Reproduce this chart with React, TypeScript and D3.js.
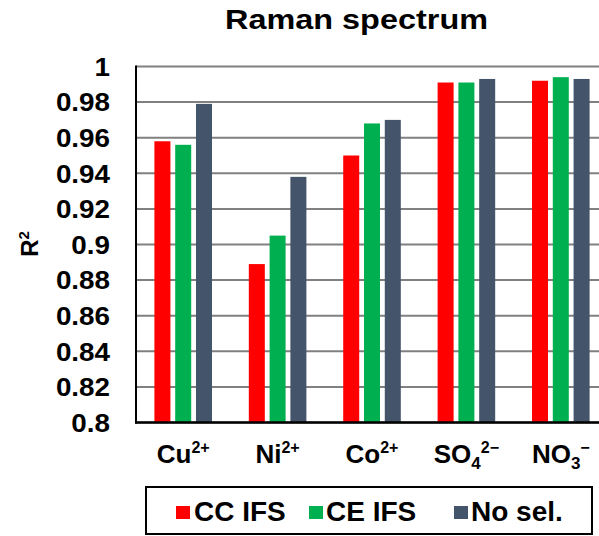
import React from "react";
import * as d3 from "d3";

const categories = ["Cu", "Ni", "Co", "SO4", "NO3"];
const seriesNames = ["CC IFS", "CE IFS", "No sel."];
const ccIFS = [0.958, 0.889, 0.95, 0.991, 0.992];
const ceIFS = [0.956, 0.905, 0.968, 0.991, 0.994];
const noSel = [0.979, 0.938, 0.97, 0.993, 0.993];
const yTicks = [0.8, 0.82, 0.84, 0.86, 0.88, 0.9, 0.92, 0.94, 0.96, 0.98, 1];
const colors = ["#ff0000", "#00b050", "#44546a"];

const W = 599;
const H = 536;
const left = 136;
const right = 608;
const top = 66.5;
const bottom = 422.5;
const FONT = "'Liberation Sans', Arial, sans-serif";

function CatLabel({ c, x, y }: { c: string; x: number; y: number }) {
  const sup = (t: string) => (
    <tspan fontSize={16} dy={-10}>
      {t}
    </tspan>
  );
  let content: React.ReactNode;
  if (c === "Cu") content = <>Cu{sup("2+")}</>;
  else if (c === "Ni") content = <>Ni{sup("2+")}</>;
  else if (c === "Co") content = <>Co{sup("2+")}</>;
  else if (c === "SO4")
    content = (
      <>
        SO
        <tspan fontSize={17} dy={6}>4</tspan>
        <tspan fontSize={16} dy={-16}>2−</tspan>
      </>
    );
  else
    content = (
      <>
        NO
        <tspan fontSize={17} dy={6}>3</tspan>
        <tspan fontSize={16} dy={-16}>−</tspan>
      </>
    );
  return (
    <text x={x} y={y} textAnchor="middle" fontSize={26} fontWeight="bold" fontFamily={FONT} fill="#000">
      {content}
    </text>
  );
}

export default function App() {
  const values = [ccIFS, ceIFS, noSel];
  const x0 = d3.scaleBand<string>().domain(categories).range([left, right]).paddingInner(0.39).paddingOuter(0.195);
  const x1 = d3.scaleBand<string>().domain(seriesNames).range([0, x0.bandwidth()]).paddingInner(0.23);
  const y = d3.scaleLinear().domain([0.8, 1]).range([bottom, top]);

  const legendItems = [
    { sq: 176, tx: 194 },
    { sq: 309, tx: 326 },
    { sq: 454, tx: 471 },
  ];

  return (
    <svg width={W} height={H} style={{ position: "absolute", left: 0, top: 0, background: "#fff" }}>
      <rect x={0} y={0} width={W} height={H} fill="#fff" />
      <text x={356.5} y={29} textAnchor="middle" fontSize={28} fontWeight="bold" fontFamily={FONT} textLength={263} lengthAdjust="spacingAndGlyphs">
        Raman spectrum
      </text>
      {yTicks.map((t) => (
        <line key={"g" + t} x1={left} x2={W} y1={y(t)} y2={y(t)} stroke="#808080" strokeWidth={2} />
      ))}
      {categories.map((c, ci) =>
        seriesNames.map((s, si) => (
          <rect
            key={c + s}
            x={(x0(c) ?? 0) + (x1(s) ?? 0)}
            y={y(values[si][ci])}
            width={x1.bandwidth()}
            height={bottom - y(values[si][ci])}
            fill={colors[si]}
          />
        ))
      )}
      <line x1={left} x2={left} y1={top - 1} y2={bottom + 1} stroke="#000" strokeWidth={2} />
      <line x1={left - 1} x2={W} y1={bottom} y2={bottom} stroke="#000" strokeWidth={2.5} />
      {yTicks.map((t) => (
        <text
          key={"t" + t}
          transform={`translate(110,${y(t)}) scale(1.07,1)`}
          dy="0.36em"
          textAnchor="end"
          fontSize={26}
          fontWeight="bold"
          fontFamily={FONT}
        >
          {d3.format("")(+t.toFixed(2))}
        </text>
      ))}
      <text transform="translate(38,244) rotate(-90)" textAnchor="middle" fontSize={24} fontWeight="bold" fontFamily={FONT}>
        R<tspan fontSize={15} dy={-9}>2</tspan>
      </text>
      {categories.map((c) => (
        <CatLabel key={c} c={c} x={(x0(c) ?? 0) + x0.bandwidth() / 2} y={463} />
      ))}
      <rect x={146} y={487} width={446} height={47} fill="#fff" stroke="#000" strokeWidth={2} />
      {seriesNames.map((s, i) => (
        <g key={s}>
          <rect x={legendItems[i].sq} y={506} width={14} height={13} fill={colors[i]} />
          <text x={legendItems[i].tx} y={521} fontSize={28} fontWeight="bold" fontFamily={FONT}>
            {s}
          </text>
        </g>
      ))}
    </svg>
  );
}
